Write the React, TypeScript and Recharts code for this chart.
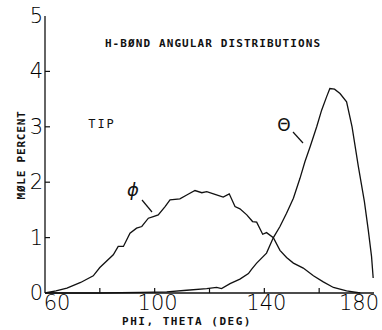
import { LineChart, Line, XAxis, YAxis } from 'recharts'

// phi distribution (deg, mole %)
const phiDeg = [60, 64, 68, 73, 77.6, 80, 84.9, 86.7, 88.6, 91, 93.4, 95.3, 97.7, 99.5, 101.3, 103.8, 105.6, 109.2, 111.7, 114.7, 117.2, 119, 122, 125, 127.2, 129.3, 131.1, 133.6, 135.7, 137.2, 139.4, 140.8, 143.3, 145.7, 148.1, 150.6, 154.2, 157.9, 161.5, 165.2, 170, 175]
const phiPct = [0, 0.04, 0.09, 0.19, 0.31, 0.46, 0.69, 0.84, 0.84, 1.08, 1.17, 1.2, 1.35, 1.38, 1.41, 1.56, 1.68, 1.7, 1.77, 1.85, 1.81, 1.83, 1.78, 1.73, 1.79, 1.56, 1.52, 1.41, 1.29, 1.28, 1.06, 1.09, 1.0, 0.77, 0.64, 0.54, 0.45, 0.31, 0.2, 0.1, 0.04, 0]

// theta distribution (deg, mole %)
const thetaDeg = [60, 80, 95, 104.4, 111.7, 119, 122.6, 124.4, 127.5, 131.1, 134.2, 135.4, 137.2, 140.8, 143.3, 145.7, 148.1, 150.6, 153, 154.8, 156.7, 159.1, 160.9, 162.7, 163.9, 165.6, 167.6, 170, 172, 174.3, 176.5, 177.9, 179.1, 179.7]
const thetaPct = [0, 0, 0.01, 0.02, 0.05, 0.08, 0.1, 0.08, 0.17, 0.25, 0.35, 0.43, 0.54, 0.72, 1.0, 1.2, 1.44, 1.71, 2.07, 2.37, 2.64, 3.0, 3.3, 3.54, 3.69, 3.68, 3.6, 3.45, 3.0, 2.28, 1.65, 1.14, 0.66, 0.27]

const xTicks = [60, 80, 100, 120, 140, 160, 180]
const xLabels = [60, 100, 140, 180]
const yTicks = [0, 1, 2, 3, 4, 5]

const phiData = phiDeg.map((x, i) => ({ x, y: phiPct[i] }))
const thetaData = thetaDeg.map((x, i) => ({ x, y: thetaPct[i] }))

const plotter = '"DejaVu Sans Mono", monospace'
const digits = '"DejaVu Sans", sans-serif'
const TICK = 5

// nudges so labels sit like the plotter output
const xLabelShift: Record<number, number> = { 60: 12, 100: 3, 140: 2, 180: -11 }

function BottomTick(props: any) {
  const { x, y, payload } = props
  const v = payload.value
  const inner = v !== 60 && v !== 180
  return (
    <g>
      {inner && <line x1={x} y1={y} x2={x} y2={y - TICK} stroke="#111" strokeWidth={1.2} />}
      {xLabels.includes(v) && (
        <text x={x + (xLabelShift[v] || 0)} y={y + 17} textAnchor="middle" fontFamily={digits} fontWeight={200} fontSize={21} fill="#000">
          {v}
        </text>
      )}
    </g>
  )
}

function TopTick(props: any) {
  const { x, y, payload } = props
  if (payload.value === 60 || payload.value === 180) return null
  return <line x1={x} y1={y} x2={x} y2={y + TICK} stroke="#111" strokeWidth={1.2} />
}

function LeftTick(props: any) {
  const { x, y, payload } = props
  const v = payload.value
  return (
    <g>
      {v !== 0 && v !== 5 && <line x1={x} y1={y} x2={x + TICK} y2={y} stroke="#111" strokeWidth={1.2} />}
      <text x={x - 2} y={y + 7} textAnchor="end" fontFamily={digits} fontWeight={200} fontSize={21} fill="#000">
        {v}
      </text>
    </g>
  )
}

function RightTick(props: any) {
  const { x, y, payload } = props
  if (payload.value === 0 || payload.value === 5) return null
  return <line x1={x} y1={y} x2={x - TICK} y2={y} stroke="#111" strokeWidth={1.2} />
}

export default function App() {
  return (
    <div style={{ position: 'absolute', left: 0, top: 0, width: 382, height: 330, background: '#fff' }}>
      <LineChart width={382} height={330} margin={{ top: 16, right: 8, bottom: 0, left: 5 }}>
        <XAxis
          dataKey="x"
          type="number"
          domain={[60, 180]}
          ticks={xTicks}
          height={37}
          tickSize={0}
          tickMargin={0}
          tickLine={false}
          tick={BottomTick}
          axisLine={{ stroke: '#111', strokeWidth: 1.3 }}
          allowDuplicatedCategory={false}
        />
        <XAxis
          xAxisId="top"
          orientation="top"
          dataKey="x"
          type="number"
          domain={[60, 180]}
          ticks={xTicks}
          height={0}
          tickSize={0}
          tickMargin={0}
          tickLine={false}
          tick={TopTick}
          axisLine={{ stroke: '#111', strokeWidth: 1.3 }}
        />
        <YAxis
          type="number"
          domain={[0, 5]}
          ticks={yTicks}
          width={40}
          tickSize={0}
          tickMargin={0}
          tickLine={false}
          tick={LeftTick}
          axisLine={{ stroke: '#111', strokeWidth: 1.3 }}
        />
        <YAxis
          yAxisId="right"
          orientation="right"
          type="number"
          domain={[0, 5]}
          ticks={yTicks}
          width={0}
          tickSize={0}
          tickMargin={0}
          tickLine={false}
          tick={RightTick}
          axisLine={{ stroke: '#111', strokeWidth: 1.3 }}
        />
        <Line data={phiData} dataKey="y" type="linear" stroke="#111" strokeWidth={1.3} dot={false} isAnimationActive={false} />
        <Line data={thetaData} dataKey="y" type="linear" stroke="#111" strokeWidth={1.3} dot={false} isAnimationActive={false} />

        <text x={213} y={47} textAnchor="middle" fontFamily={plotter} fontSize={11} fontWeight="bold" letterSpacing={1.1} fill="#111">
          H-BØND ANGULAR DISTRIBUTIONS
        </text>
        <text x={102} y={128} textAnchor="middle" fontFamily={plotter} fontSize={12} letterSpacing={2} fill="#111">
          TIP
        </text>
        <text x={187} y={325} textAnchor="middle" fontFamily={plotter} fontSize={11} fontWeight="bold" letterSpacing={1.5} fill="#111">
          PHI, THETA (DEG)
        </text>
        <text
          x={25}
          y={155}
          textAnchor="middle"
          transform="rotate(-90 25 155)"
          fontFamily={plotter}
          fontSize={11}
          fontWeight="bold"
          letterSpacing={0.8}
          fill="#111"
        >
          MØLE PERCENT
        </text>
        <text x={284} y={131} textAnchor="middle" fontFamily={digits} fontSize={17} fill="#111">
          Θ
        </text>
        <line x1={293} y1={132} x2={303} y2={143} stroke="#111" strokeWidth={1.2} />
        <text x={133} y={196} textAnchor="middle" fontFamily={digits} fontSize={18} fontStyle="italic" fill="#111">
          ϕ
        </text>
        <line x1={142} y1={200} x2={152} y2={212} stroke="#111" strokeWidth={1.2} />
      </LineChart>
    </div>
  )
}
